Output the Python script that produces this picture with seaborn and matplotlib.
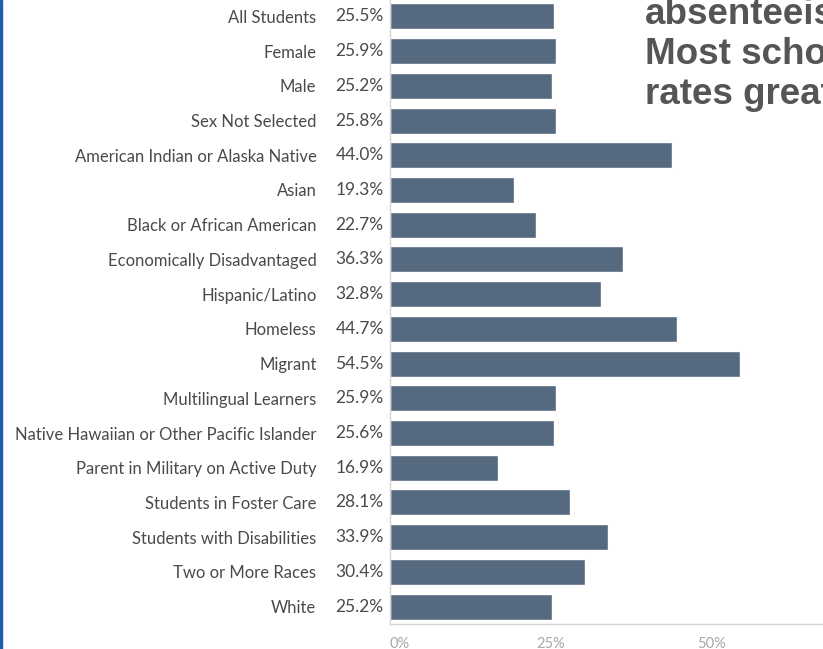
import matplotlib
matplotlib.use('Agg')
import pandas as pd
import seaborn as sns
import matplotlib.pyplot as plt
from matplotlib.patches import Rectangle

groups = [
    'All Students', 'Female', 'Male', 'Sex Not Selected',
    'American Indian or Alaska Native', 'Asian', 'Black or African American',
    'Economically Disadvantaged', 'Hispanic/Latino', 'Homeless', 'Migrant',
    'Multilingual Learners', 'Native Hawaiian or Other Pacific Islander',
    'Parent in Military on Active Duty', 'Students in Foster Care',
    'Students with Disabilities', 'Two or More Races', 'White',
]
rates = [25.5, 25.9, 25.2, 25.8, 44.0, 19.3, 22.7, 36.3, 32.8, 44.7, 54.5,
         25.9, 25.6, 16.9, 28.1, 33.9, 30.4, 25.2]
x_ticks = [0, 25, 50]
title_lines = ['absenteeism', 'Most schools', 'rates greater']

BAR_COLOR = '#55697f'
TEXT_COLOR = '#4a4a4a'

sns.set_style('white')
plt.rcParams['font.family'] = ['Lato', 'DejaVu Sans']

df = pd.DataFrame({'group': groups, 'rate': rates})

fig = plt.figure(figsize=(8.23, 6.49), dpi=100)
ax = fig.add_axes([390 / 823, 1 - 624 / 649, 1 - 390 / 823, 625 / 649])

sns.barplot(data=df, y='group', x='rate', color=BAR_COLOR, orient='h',
            width=0.75, saturation=1, ax=ax)

ax.set_xlim(0, (823 - 390) / 6.42)
ax.set_xlabel('')
ax.set_ylabel('')
ax.set_xticks(x_ticks)
ax.set_xticklabels([f'{t}%' for t in x_ticks], color='#a8a8a8', fontsize=10.5)
ax.get_xticklabels()[0].set_horizontalalignment('left')
ax.tick_params(axis='x', length=0, pad=9)
ax.tick_params(axis='y', length=0, pad=53, labelsize=12, labelcolor=TEXT_COLOR)

for side in ('top', 'right'):
    ax.spines[side].set_visible(False)
for side in ('left', 'bottom'):
    ax.spines[side].set_color('#d4d4d4')
    ax.spines[side].set_linewidth(1.0)

for i, v in enumerate(rates):
    ax.annotate(f'{v:.1f}%', xy=(0, i), xytext=(-4.5, 0), textcoords='offset points',
                ha='right', va='center', fontsize=12.5, color=TEXT_COLOR)

for k, line in enumerate(title_lines):
    fig.text(645 / 823, 1 - (14 + 40 * k) / 649, line, fontsize=26.5, fontweight='bold',
             color='#555555', family=['Liberation Sans', 'DejaVu Sans'],
             ha='left', va='center')

# left blue frame edge
fig.patches.append(Rectangle((0, 0), 2 / 823, 1, transform=fig.transFigure,
                             color='#1f5ea8', zorder=5))

fig.savefig('out.png', dpi=100)
